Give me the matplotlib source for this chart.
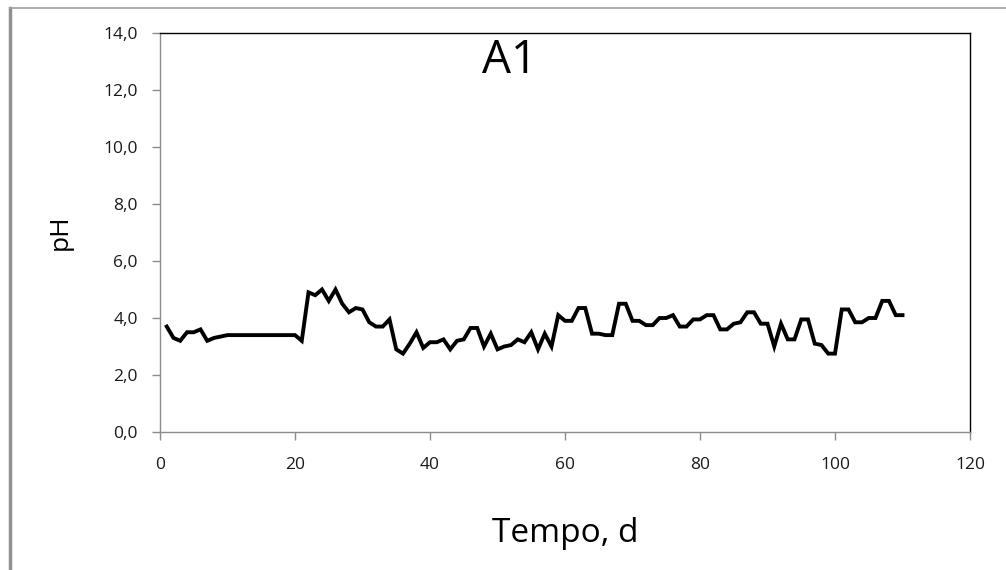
import matplotlib
matplotlib.use("Agg")
import matplotlib.pyplot as plt
from matplotlib.lines import Line2D

days = list(range(1, 111))
ph = [3.7, 3.3, 3.2, 3.5, 3.5, 3.6, 3.2, 3.3, 3.35, 3.4,
      3.4, 3.4, 3.4, 3.4, 3.4, 3.4, 3.4, 3.4, 3.4, 3.4,
      3.2, 4.9, 4.8, 5.0, 4.6, 5.0, 4.5, 4.2, 4.35, 4.3,
      3.85, 3.7, 3.7, 3.95, 2.9, 2.75, 3.1, 3.5, 2.95, 3.15,
      3.15, 3.25, 2.9, 3.2, 3.25, 3.65, 3.65, 3.0, 3.45, 2.9,
      3.0, 3.05, 3.25, 3.15, 3.5, 2.9, 3.45, 3.0, 4.1, 3.9,
      3.9, 4.35, 4.35, 3.45, 3.45, 3.4, 3.4, 4.5, 4.5, 3.9,
      3.9, 3.75, 3.75, 4.0, 4.0, 4.1, 3.7, 3.7, 3.95, 3.95,
      4.1, 4.1, 3.6, 3.6, 3.8, 3.85, 4.2, 4.2, 3.8, 3.8,
      3.0, 3.8, 3.25, 3.25, 3.95, 3.95, 3.1, 3.05, 2.75, 2.75,
      4.3, 4.3, 3.85, 3.85, 4.0, 4.0, 4.6, 4.6, 4.1, 4.1]

x_ticks = [0, 20, 40, 60, 80, 100, 120]
y_ticks = [0, 2, 4, 6, 8, 10, 12, 14]
y_labels = [f"{v:.1f}".replace(".", ",") for v in y_ticks]

plt.rcParams['font.family'] = ['Open Sans', 'DejaVu Sans']

W, H = 1006, 570
fig = plt.figure(figsize=(W / 100, H / 100), dpi=100)
ax = fig.add_axes([160 / W, 1 - 432 / H, 810 / W, 399 / H])

ax.plot(days, ph, color="black", lw=2.8, solid_joinstyle="miter")

ax.set_xlim(0, 120)
ax.set_ylim(0, 14)
ax.set_xticks(x_ticks)
ax.set_yticks(y_ticks)
ax.set_yticklabels(y_labels)

for s in ["left", "bottom"]:
    ax.spines[s].set_color("#8c8c8c")
    ax.spines[s].set_linewidth(1.0)
for s in ["top", "right"]:
    ax.spines[s].set_color("black")
    ax.spines[s].set_linewidth(1.0)

ax.tick_params(axis="both", direction="out", length=6, width=1, color="#8c8c8c",
               labelsize=12.5, labelcolor="#1a1a1a")
ax.tick_params(axis="y", pad=10)
ax.tick_params(axis="x", pad=12)

ax.set_xlabel("Tempo, d", fontsize=24, labelpad=32)
ax.set_ylabel("pH", fontsize=19, labelpad=22)

ax.text(0.432, 0.93, "A1", transform=ax.transAxes, fontsize=33,
        ha="center", va="center")

# outer chart frame (top and left visible)
fig.add_artist(Line2D([9.5 / W, 9.5 / W], [0, 1 - 8 / H], transform=fig.transFigure,
                      color="#909090", lw=2.5))
fig.add_artist(Line2D([9.5 / W, 1], [1 - 8 / H, 1 - 8 / H], transform=fig.transFigure,
                      color="#a0a0a0", lw=1.2))

fig.savefig("out.png", dpi=100)
